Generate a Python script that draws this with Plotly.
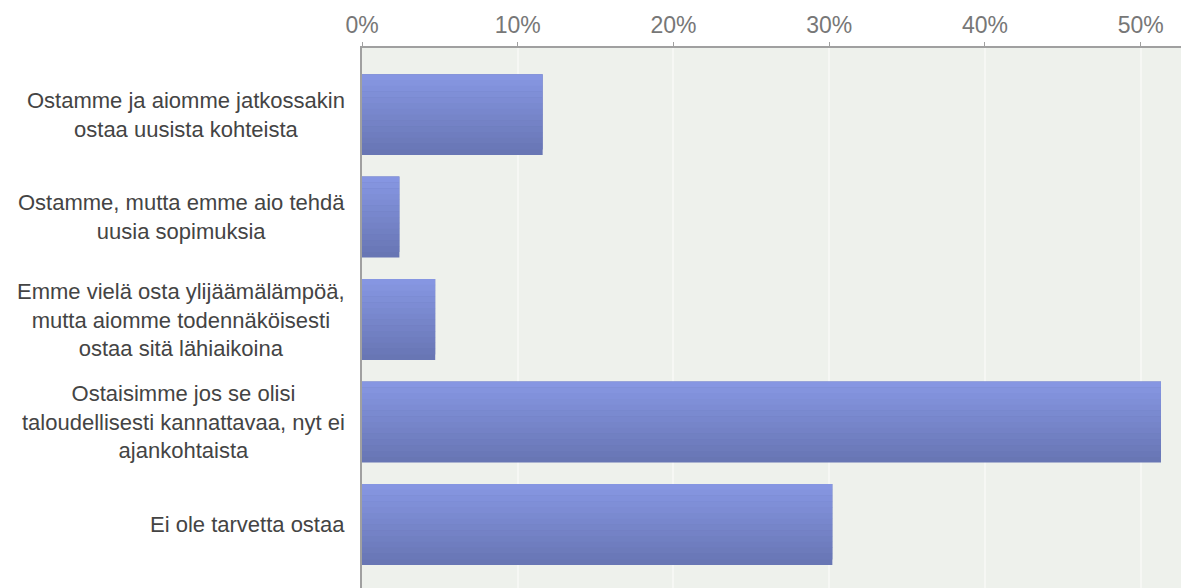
import plotly.graph_objects as go

categories = [
    "Ostamme ja aiomme jatkossakin<br>ostaa uusista kohteista",
    "Ostamme, mutta emme aio tehdä<br>uusia sopimuksia",
    "Emme vielä osta ylijäämälämpöä,<br>mutta aiomme todennäköisesti<br>ostaa sitä lähiaikoina",
    "Ostaisimme jos se olisi<br>taloudellisesti kannattavaa, nyt ei<br>ajankohtaista",
    "Ei ole tarvetta ostaa",
]
values = [11.6, 2.4, 4.7, 51.3, 30.2]
tick_vals = [0, 10, 20, 30, 40, 50]
tick_text = ["0%", "10%", "20%", "30%", "40%", "50%"]

BAR_W = 0.79
N_BANDS = 14
top_rgb = (0x86, 0x96, 0xe2)
bot_rgb = (0x68, 0x76, 0xb4)

fig = go.Figure()
fig.add_trace(go.Bar(
    y=categories, x=values, orientation="h", width=BAR_W,
    marker=dict(color="rgb(%d,%d,%d)" % bot_rgb, line=dict(width=0)),
    hoverinfo="skip", showlegend=False,
))
band = BAR_W / N_BANDS
for k in range(N_BANDS - 1):
    t = k / (N_BANDS - 1)
    c = tuple(int(round(top_rgb[i] + (bot_rgb[i] - top_rgb[i]) * t)) for i in range(3))
    fig.add_trace(go.Bar(
        y=categories, x=values, orientation="h",
        width=band * 1.05, offset=-BAR_W / 2 + k * band,
        marker=dict(color="rgb(%d,%d,%d)" % c, line=dict(width=0)),
        hoverinfo="skip", showlegend=False,
    ))

for cat in categories:
    fig.add_annotation(
        x=0, xref="paper", y=cat, yref="y", text=cat, showarrow=False,
        xanchor="right", yanchor="middle", align="center", xshift=-15,
        font=dict(family="Liberation Sans, Arial, sans-serif", size=22, color="#444444"),
    )

fig.update_layout(
    width=1181, height=580,
    margin=dict(l=354, r=0, t=40, b=0),
    paper_bgcolor="white", plot_bgcolor="#eef1ec",
    barmode="overlay", showlegend=False,
    xaxis=dict(
        side="top", range=[0, 53.1], tickvals=tick_vals, ticktext=tick_text,
        showgrid=True, gridcolor="#f6f7f4", gridwidth=2,
        showline=True, linecolor="#a0a0a0", linewidth=2,
        ticks="outside", ticklen=4, tickcolor="#a0a0a0",
        tickfont=dict(family="Liberation Sans, Arial, sans-serif", size=23, color="#777777"),
        zeroline=False, fixedrange=True,
    ),
    yaxis=dict(
        categoryorder="array", categoryarray=categories,
        range=[4.62, -0.65], showticklabels=False, showgrid=False,
        showline=True, linecolor="#a0a0a0", linewidth=2, ticks="",
        zeroline=False, fixedrange=True,
    ),
)

fig.write_html("out.html")
